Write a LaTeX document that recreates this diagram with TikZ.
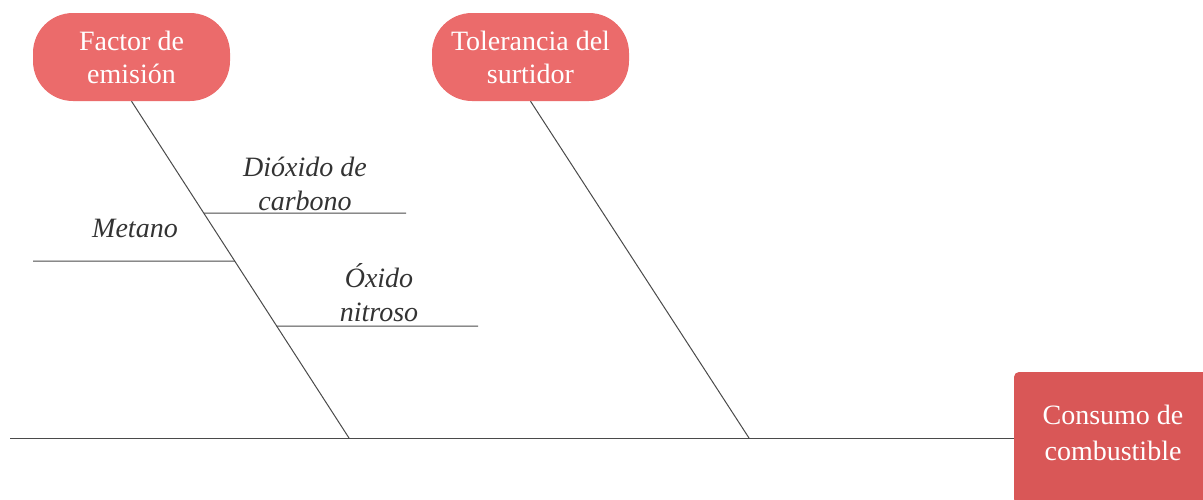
\documentclass[tikz,border=0pt]{standalone}
\usepackage{fontspec}
\setmainfont{Liberation Serif}
\definecolor{boxA}{HTML}{EB6B6B}
\definecolor{boxB}{HTML}{D95757}
\definecolor{linec}{HTML}{4A4A4A}
\definecolor{txt}{HTML}{333333}
\begin{document}
\begin{tikzpicture}[x=1pt,y=-1pt,
  causebox/.style={fill=boxA, draw=none, rounded corners=40pt, minimum width=197pt, minimum height=88pt, inner sep=0pt, text=white, align=center, font=\fontsize{28}{33}\selectfont},
  effectbox/.style={fill=boxB, draw=none, rounded corners=5pt, minimum width=194pt, minimum height=132pt, inner sep=0pt},
  effecttext/.style={text=white, align=center, inner sep=0pt, font=\fontsize{28}{36}\selectfont},
  bone/.style={draw=linec, line width=1pt},
  sublabel/.style={text=txt, align=center, inner sep=0pt, font=\fontsize{28}{34}\selectfont\itshape}
]
\useasboundingbox (0,0) rectangle (1203,499);
\clip (0,0) rectangle (1203,499);
% boxes
\node[causebox] (fa) at (131.5,57) {Factor de\\emisión};
\node[causebox] (tol) at (530.5,57) {Tolerancia del\\surtidor};
\node[effectbox] (cons) at (1111,438) {};
\node[effecttext] (constxt) at (1113,433) {Consumo de\\combustible};
% spine
\coordinate (tail) at (10,438);
\coordinate (j1) at (349,438);
\coordinate (j2) at (749,438);
\draw[bone] (tail) -- (cons.west);
% main bones
\draw[bone] (fa.south) -- (j1)
  coordinate[pos=0.3323] (d1)
  coordinate[pos=0.4748] (m1)
  coordinate[pos=0.6677] (n1);
\draw[bone] (tol.south) -- (j2);
% sub bones
\coordinate (d2) at (406,213);
\coordinate (m2) at (33,261);
\coordinate (n2) at (478,326);
\draw[bone] (d1) -- (d2);
\draw[bone] (m1) -- (m2);
\draw[bone] (n1) -- (n2);
% labels
\node[sublabel] (ldio) at (305,184) {Dióxido de\\carbono};
\node[sublabel] (lmet) at (135,228) {Metano};
\node[sublabel] (loxi) at (379,293) {Óxido\\nitroso};
\end{tikzpicture}
\end{document}
